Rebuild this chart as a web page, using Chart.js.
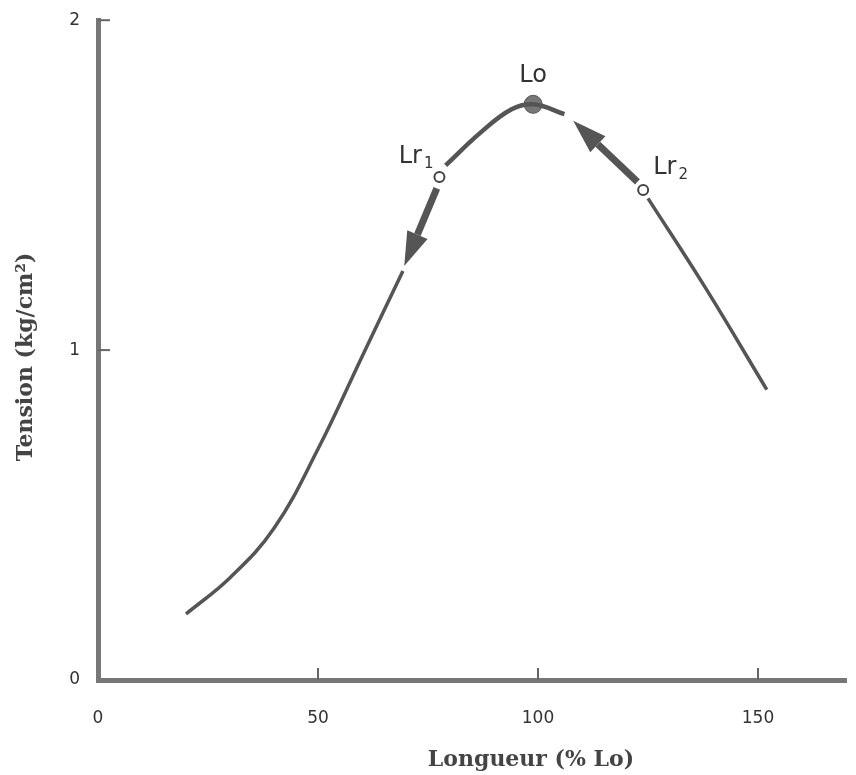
<!DOCTYPE html>
<html>
<head>
<meta charset="utf-8">
<script src="https://cdn.jsdelivr.net/npm/chart.js@4.4.0/dist/chart.umd.min.js"></script>
<style>
  html, body { margin: 0; padding: 0; background: #fff; }
  #wrap { width: 856px; height: 775px; }
</style>
</head>
<body>
<div id="wrap"><canvas id="myChart"></canvas></div>
<script>
// courbe tension-longueur
let xTicks = [0, 50, 100, 150];
let yTicks = [0, 1, 2];

let ascending = [[20, 0.20], [30, 0.31], [40, 0.46], [50, 0.70], [60, 0.98], [69.3, 1.24]];
let summit = [[79, 1.56], [87, 1.66], [94, 1.73], [99, 1.745], [106, 1.715]];
let descending = [[125, 1.46], [138, 1.19], [152, 0.88]];

let arrow1 = [[77, 1.49], [69.6, 1.255]];
let arrow2 = [[122.6, 1.51], [108, 1.695]];

let Lo = [98.9, 1.745];
let Lr1 = [77.6, 1.525];
let Lr2 = [123.9, 1.485];

let ink = '#555';

function pts(arr) {
    return arr.map(p => ({x: p[0], y: p[1]}));
}

let decor = {
    id: 'decor',
    afterDatasetsDraw(chart) {
        let c = chart.ctx;
        let xs = chart.scales.x, ys = chart.scales.y;
        let px = v => xs.getPixelForValue(v);
        let py = v => ys.getPixelForValue(v);
        c.save();

        // petits traits de graduation vers l'intérieur
        c.strokeStyle = '#666';
        c.lineWidth = 2;
        xTicks.slice(1).forEach(t => {
            c.beginPath();
            c.moveTo(px(t), py(0));
            c.lineTo(px(t), py(0) - 12);
            c.stroke();
        });
        yTicks.slice(1).forEach(t => {
            c.beginPath();
            c.moveTo(px(0), py(t));
            c.lineTo(px(0) + 12, py(t));
            c.stroke();
        });

        // flèches
        [arrow1, arrow2].forEach(a => {
            let x0 = px(a[0][0]), y0 = py(a[0][1]);
            let x1 = px(a[1][0]), y1 = py(a[1][1]);
            let ang = Math.atan2(y1 - y0, x1 - x0);
            let headLen = 34, headW = 11;
            let bx = x1 - headLen * Math.cos(ang), by = y1 - headLen * Math.sin(ang);
            c.strokeStyle = ink;
            c.lineWidth = 7;
            c.beginPath();
            c.moveTo(x0, y0);
            c.lineTo(bx, by);
            c.stroke();
            c.fillStyle = ink;
            c.beginPath();
            c.moveTo(x1, y1);
            c.lineTo(bx + headW * Math.sin(ang), by - headW * Math.cos(ang));
            c.lineTo(bx - headW * Math.sin(ang), by + headW * Math.cos(ang));
            c.closePath();
            c.fill();
        });

        // étiquettes
        c.fillStyle = '#333';
        c.font = '24px "DejaVu Sans"';
        c.textBaseline = 'alphabetic';
        c.textAlign = 'center';
        c.fillText('Lo', px(Lo[0]), py(Lo[1]) - 22);

        let sub = (txt, s, x, y, align) => {
            c.font = '24px "DejaVu Sans"';
            let w = c.measureText(txt).width;
            c.font = '15px "DejaVu Sans"';
            let ws = c.measureText(s).width;
            let left = align === 'right' ? x - w - ws - 2 : x;
            c.textAlign = 'left';
            c.font = '24px "DejaVu Sans"';
            c.fillText(txt, left, y);
            c.font = '15px "DejaVu Sans"';
            c.fillText(s, left + w + 2, y + 5);
        };
        sub('Lr', '1', px(Lr1[0]) - 6, py(Lr1[1]) - 14, 'right');
        sub('Lr', '2', px(Lr2[0]) + 10, py(Lr2[1]) - 16, 'left');

        // titres des axes
        c.fillStyle = '#444';
        c.font = 'bold 22px "DejaVu Serif"';
        c.textAlign = 'center';
        c.textBaseline = 'middle';
        c.fillText('Longueur (% Lo)', 531, 760);
        c.translate(26, 357);
        c.rotate(-Math.PI / 2);
        c.fillText('Tension (kg/cm²)', 0, 0);
        c.restore();
    }
};

let ctx = document.getElementById('myChart');
let myChart = new Chart(ctx, {
    type: 'scatter',
    data: {
        datasets: [
            {data: pts(ascending), showLine: true, borderColor: ink, borderWidth: 3.5, pointRadius: 0, tension: 0.4},
            {data: pts(summit), showLine: true, borderColor: ink, borderWidth: 4.5, pointRadius: 0, tension: 0.4},
            {data: pts(descending), showLine: true, borderColor: ink, borderWidth: 3.5, pointRadius: 0, tension: 0.4},
            {data: [{x: Lo[0], y: Lo[1]}], pointRadius: 9, backgroundColor: '#777', borderColor: '#555', borderWidth: 1},
            {data: [{x: Lr1[0], y: Lr1[1]}, {x: Lr2[0], y: Lr2[1]}], pointRadius: 5, backgroundColor: '#fff', borderColor: '#444', borderWidth: 2}
        ]
    },
    options: {
        responsive: true,
        maintainAspectRatio: false,
        animation: false,
        clip: false,
        layout: {padding: {top: 20, right: 0, left: 0, bottom: 0}},
        plugins: {legend: {display: false}, tooltip: {enabled: false}},
        scales: {
            x: {
                type: 'linear',
                min: 0,
                max: 170,
                afterFit: s => { s.height = 95; },
                grid: {display: false},
                border: {display: true, color: '#777', width: 5},
                ticks: {stepSize: 50, includeBounds: false, padding: 20, color: '#333', font: {family: 'DejaVu Sans', size: 17}}
            },
            y: {
                min: 0,
                max: 2,
                afterFit: s => { s.width = 98; },
                grid: {display: false},
                border: {display: true, color: '#777', width: 5},
                ticks: {stepSize: 1, padding: 10, color: '#333', font: {family: 'DejaVu Sans', size: 17}}
            }
        }
    },
    plugins: [decor]
});
</script>
</body>
</html>
